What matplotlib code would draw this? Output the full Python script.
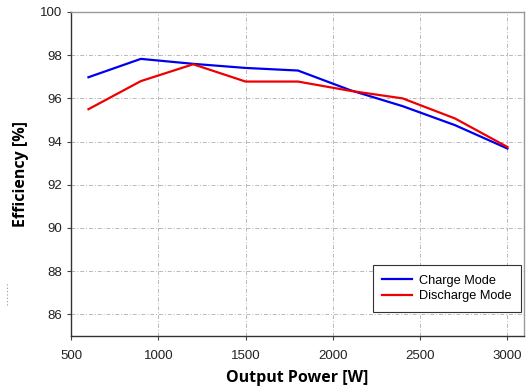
import matplotlib
matplotlib.use("Agg")
import matplotlib.pyplot as plt
from matplotlib.lines import Line2D

power = [600, 900, 1200, 1500, 1800, 2100, 2400, 2700, 3000]
charge = [96.98, 97.83, 97.6, 97.41, 97.29, 96.38, 95.64, 94.76, 93.68]
discharge = [95.5, 96.8, 97.58, 96.78, 96.78, 96.35, 96.0, 95.07, 93.75]
xticks = [500, 1000, 1500, 2000, 2500, 3000]
yticks = [86, 88, 90, 92, 94, 96, 98, 100]

fig = plt.figure(figsize=(5.3, 3.91), dpi=100)
ax = fig.add_axes([71/530, 1-336/391, (524-71)/530, (336-12)/391])

ax.plot(power, charge, color="#0000ee", lw=1.6, label="Charge Mode")
ax.plot(power, discharge, color="#ee0000", lw=1.6, label="Discharge Mode")

ax.set_xlim(500, 3095)
ax.set_ylim(85, 100)
ax.set_xticks(xticks)
ax.set_yticks(yticks)
ax.grid(True, color="#b8b8b8", linestyle=(0, (4, 2, 1, 2)), lw=0.7)
ax.set_axisbelow(True)

for lab in ax.get_xticklabels() + ax.get_yticklabels():
    lab.set_fontfamily("Liberation Sans")
    lab.set_fontsize(9.5)
    lab.set_color("#222222")
ax.tick_params(axis="both", length=3, width=0.8, color="#444444")
ax.tick_params(axis="x", pad=7)

for s in ["left", "bottom"]:
    ax.spines[s].set_color("#333333")
    ax.spines[s].set_linewidth(1.0)
for s in ["top", "right"]:
    ax.spines[s].set_color("#999999")
    ax.spines[s].set_linewidth(1.0)

ax.set_xlabel("Output Power [W]", fontfamily="Open Sans", fontweight="bold", fontsize=11.5, labelpad=6)
ax.set_ylabel("Efficiency [%]", fontfamily="Open Sans", fontweight="bold", fontsize=11.5, labelpad=8)

leg = ax.legend(loc="lower right", bbox_to_anchor=(0.993, 0.074), borderaxespad=0, fancybox=False,
                edgecolor="#333333", framealpha=1, prop={"family": "Liberation Sans", "size": 9.2},
                handlelength=2.35, handletextpad=0.5, borderpad=0.75, labelspacing=0.3)
leg.get_frame().set_linewidth(0.8)

fig.add_artist(Line2D([7/530, 7/530], [1-305/391, 1-283/391], color="#8899aa",
                      lw=0.8, linestyle=(0, (1, 2)), transform=fig.transFigure))

fig.savefig("out.png", dpi=100)
